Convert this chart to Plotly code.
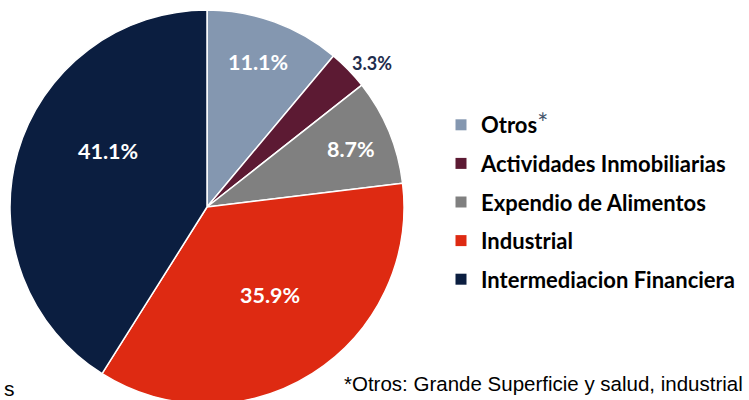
import math
import plotly.graph_objects as go

# Portfolio composition by economic sector (%)
sectors = ["Otros", "Actividades Inmobiliarias", "Expendio de Alimentos",
           "Industrial", "Intermediacion Financiera"]
shares = [11.1, 3.3, 8.7, 35.9, 41.1]
legend_labels = [
    "Otros<span style='font-size:26px;color:#44546A;font-weight:normal'>*</span>",
    "Actividades Inmobiliarias",
    "Expendio de Alimentos",
    "Industrial",
    "Intermediacion Financiera",
]
footnote = "*Otros: Grande Superficie y salud, industrial"

colors = ["#8497B0", "#5C1A33", "#808080", "#DE2A12", "#0B1E40"]
label_colors = ["white", "#1F2D4D", "white", "white", "white"]
label_sizes = [21.5, 18, 21.5, 21.5, 21.5]
# radial position of each value label (fraction of radius) and angular nudge (deg)
label_radius = [0.78, 1.11, 0.79, 0.55, 0.58]
label_nudge = [-0.6, 3.0, 0.5, -3.0, 13.5]

W, H = 749, 414
cx, cy, R = 207, 207, 197

fig = go.Figure()
fig.add_trace(go.Pie(
    labels=sectors,
    values=shares,
    sort=False,
    direction="clockwise",
    rotation=0,
    marker=dict(colors=colors, line=dict(color="white", width=1.5)),
    textinfo="none",
    hoverinfo="label+percent",
    showlegend=False,
    domain=dict(x=[(cx - R) / W, (cx + R) / W], y=[1 - (cy + R) / H, 1 - (cy - R) / H]),
))

# Legend entries (one group each so the rows can be spaced apart)
for i, (lab, col) in enumerate(zip(legend_labels, colors)):
    fig.add_trace(go.Scatter(
        x=[None], y=[None], mode="markers", name=lab,
        marker=dict(symbol="square", size=11, color=col),
        legendgroup=f"g{i}", showlegend=True, hoverinfo="skip",
    ))

# Value labels placed at each slice's mid-angle
total = sum(shares)
cum = 0.0
annotations = []
for v, fr, nd, tc, fs in zip(shares, label_radius, label_nudge, label_colors, label_sizes):
    mid = (cum + v / 2) / total * 360 + nd
    cum += v
    px = cx + fr * R * math.sin(math.radians(mid))
    py = cy - fr * R * math.cos(math.radians(mid))
    annotations.append(dict(
        x=px / W, y=1 - py / H, xref="paper", yref="paper",
        text=f"<b>{v:.1f}%</b>", showarrow=False,
        font=dict(family="Lato", size=fs, color=tc),
        xanchor="center", yanchor="middle",
    ))

annotations.append(dict(
    x=342 / W, y=1 - 383 / H, xref="paper", yref="paper", text=footnote,
    showarrow=False, xanchor="left", yanchor="middle",
    font=dict(family="Liberation Sans, Arial", size=20.5, color="black"),
))
annotations.append(dict(
    x=2 / W, y=1 - 388 / H, xref="paper", yref="paper", text="s",
    showarrow=False, xanchor="left", yanchor="middle",
    font=dict(family="Liberation Sans, Arial", size=21, color="black"),
))

fig.update_layout(
    width=W, height=H,
    margin=dict(l=0, r=0, t=0, b=0),
    paper_bgcolor="white", plot_bgcolor="white",
    xaxis=dict(visible=False), yaxis=dict(visible=False),
    showlegend=True,
    legend=dict(
        x=441 / W, y=1 - 104 / H, xanchor="left", yanchor="top",
        font=dict(family="Lato", size=22, color="black", weight="bold"),
        tracegroupgap=7, traceorder="grouped",
        bgcolor="rgba(0,0,0,0)", itemclick=False, itemdoubleclick=False,
    ),
    annotations=annotations,
)

fig.write_html("out.html", post_script="document.body.style.overflow='hidden';document.body.style.margin='0';")
